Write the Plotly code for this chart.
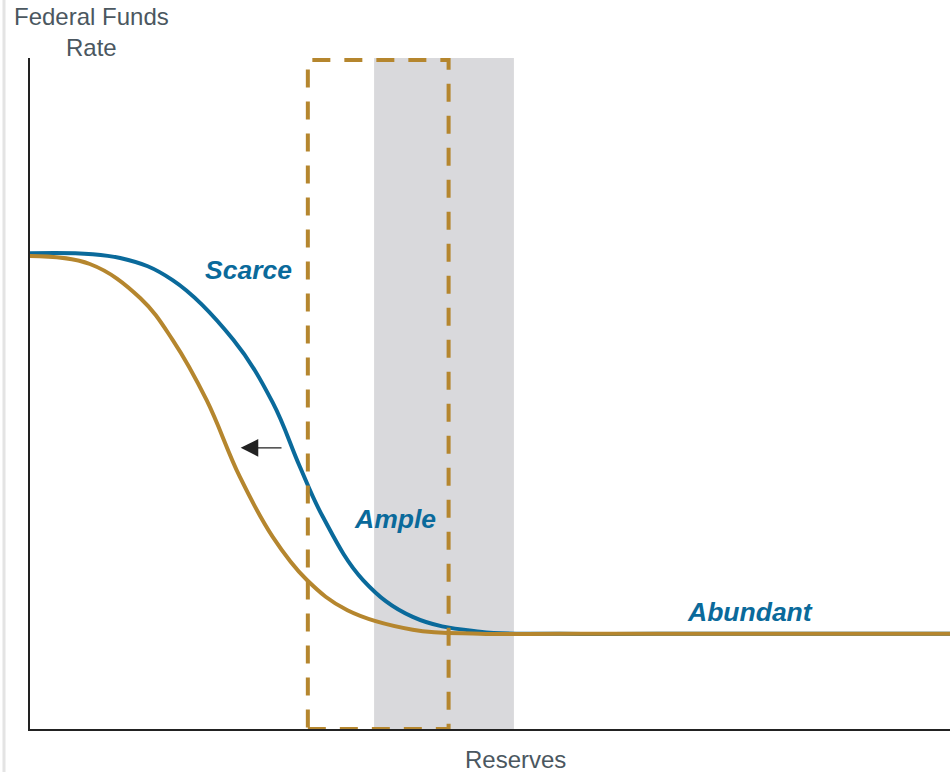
import plotly.graph_objects as go

# Conceptual reserve demand curves (arbitrary units, 0-100 scale)
scarce_x = [0, 9.8, 15.5, 22.1, 26.4, 29.3, 31.8, 36.2, 41.6, 48.9, 57.6, 75.0, 100]
scarce_y = [70.9, 70.2, 66.9, 58.0, 48.6, 39.2, 31.7, 22.2, 16.7, 14.5, 14.2, 14.2, 14.2]

shifted_x = [0, 6.5, 12.0, 15.5, 19.2, 22.8, 26.4, 30.1, 34.5, 41.6, 48.9, 57.6, 75.0, 100]
shifted_y = [70.5, 69.3, 64.2, 58.0, 49.0, 37.6, 28.6, 22.2, 17.7, 14.8, 14.2, 14.2, 14.2, 14.2]

# Regions
ample_band = [37.4, 52.6]        # shaded band
dashed_region = [30.2, 45.5]     # dashed box (x range)
dashed_top = 99.7

# Labels
label_text = ["Scarce", "Ample", "Abundant"]
label_x = [23.8, 39.7, 78.3]
label_y = [68.4, 31.3, 17.4]

# Shift arrow
arrow_from = [27.5, 41.9]
arrow_to = [22.9, 41.9]

BLUE = "#0a6a9b"
GOLD = "#b5862e"
GRAY_TXT = "#4b5760"
FONT = "Liberation Sans, Arial"

fig = go.Figure()

fig.add_trace(go.Scatter(x=scarce_x, y=scarce_y, mode="lines",
                         line=dict(color=BLUE, width=4, shape="spline", smoothing=1.1),
                         hoverinfo="skip", showlegend=False))
fig.add_trace(go.Scatter(x=shifted_x, y=shifted_y, mode="lines",
                         line=dict(color=GOLD, width=4, shape="spline", smoothing=1.1),
                         hoverinfo="skip", showlegend=False))

fig.add_shape(type="rect", xref="x", yref="y", x0=ample_band[0], x1=ample_band[1], y0=0, y1=100,
              fillcolor="#d9d9dc", line=dict(width=0), layer="below")
fig.add_shape(type="rect", xref="x", yref="y", x0=dashed_region[0], x1=dashed_region[1], y0=0, y1=dashed_top,
              fillcolor="rgba(0,0,0,0)", line=dict(color=GOLD, width=4, dash="18px,14px"), layer="above")

# faint page border on the left
fig.add_shape(type="line", xref="paper", yref="paper", x0=-26 / 920, x1=-26 / 920, y0=-43 / 671, y1=1 + 58 / 671,
              line=dict(color="#e4e4e4", width=3))

for t, x, y in zip(label_text, label_x, label_y):
    fig.add_annotation(x=x, y=y, xref="x", yref="y", text=f"<b><i>{t}</i></b>", showarrow=False,
                       xanchor="center", yanchor="middle",
                       font=dict(family=FONT, size=26.5, color=BLUE))

fig.add_annotation(x=arrow_to[0], y=arrow_to[1], ax=arrow_from[0], ay=arrow_from[1], xref="x", yref="y",
                   axref="x", ayref="y", text="", showarrow=True, arrowhead=2, arrowsize=3.2, arrowwidth=1.1,
                   arrowcolor="#222222")

fig.add_annotation(x=(91 - 30) / 920, y=1 + (58 - 32) / 671, xref="paper", yref="paper",
                   xanchor="center", yanchor="middle",
                   text="Federal Funds<br>Rate", showarrow=False, align="center",
                   font=dict(family=FONT, size=24, color=GRAY_TXT))
fig.add_annotation(x=(515 - 30) / 920, y=-(759 - 729) / 671, xref="paper", yref="paper",
                   xanchor="center", yanchor="middle",
                   text="Reserves", showarrow=False,
                   font=dict(family=FONT, size=24, color=GRAY_TXT))
fig.add_annotation(x=-20 / 920, y=-(767 - 729) / 671, xref="paper", yref="paper", xanchor="left", yanchor="top",
                   text="Source: Federal Reserve Bank of New York", showarrow=False,
                   font=dict(family=FONT, size=17, color="#666666"))

fig.update_layout(
    width=950, height=772,
    margin=dict(l=30, r=0, t=58, b=43),
    plot_bgcolor="white", paper_bgcolor="white",
    xaxis=dict(range=[0, 100], showgrid=False, zeroline=False, showticklabels=False, ticks="",
               showline=True, linecolor="#222222", linewidth=2, fixedrange=True),
    yaxis=dict(range=[0, 100], showgrid=False, zeroline=False, showticklabels=False, ticks="",
               showline=True, linecolor="#222222", linewidth=2, fixedrange=True),
)

fig.write_html("out.html", config={"displayModeBar": False},
               post_script="document.body.style.margin='0';document.body.style.overflow='hidden';")
